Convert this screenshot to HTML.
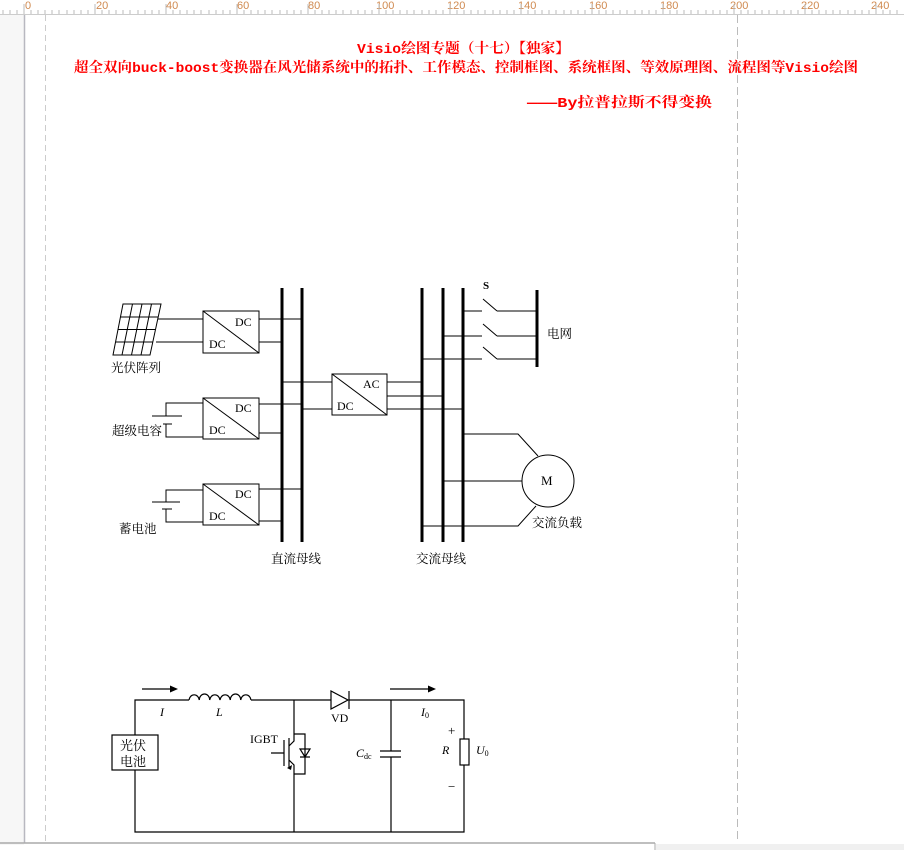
<!DOCTYPE html>
<html><head><meta charset="utf-8"><style>
html,body{margin:0;padding:0;background:#fff;}
svg{display:block;}
text{font-family:"Liberation Serif","Noto Serif CJK SC",serif;}
.cj{font-family:"Liberation Sans","Noto Sans CJK SC",sans-serif;font-size:12.5px;}
</style></head><body>
<svg width="904" height="850" viewBox="0 0 904 850" xmlns="http://www.w3.org/2000/svg">
<rect x="0" y="0" width="904" height="850" fill="#fff"/>
<rect x="0" y="15" width="24" height="830" fill="#f7f7f7"/>
<line x1="24.5" y1="15" x2="24.5" y2="843" stroke="#b8b8c0" stroke-width="1.5"/>
<line x1="45.5" y1="15" x2="45.5" y2="843" stroke="#ccc" stroke-dasharray="6,4"/>
<line x1="737.5" y1="15" x2="737.5" y2="843" stroke="#bbb" stroke-dasharray="8,4"/>
<!-- ruler -->
<rect x="0" y="0" width="904" height="15" fill="#fff"/>
<line x1="0" y1="14.5" x2="904" y2="14.5" stroke="#ccc"/>
<g font-family="Liberation Sans,sans-serif" font-size="11" fill="#d08a50">
<text x="25" y="9" style="font-family:'Liberation Sans',sans-serif">0</text><text x="96" y="9" style="font-family:'Liberation Sans',sans-serif">20</text><text x="166" y="9" style="font-family:'Liberation Sans',sans-serif">40</text><text x="237" y="9" style="font-family:'Liberation Sans',sans-serif">60</text><text x="308" y="9" style="font-family:'Liberation Sans',sans-serif">80</text><text x="376" y="9" style="font-family:'Liberation Sans',sans-serif">100</text><text x="447" y="9" style="font-family:'Liberation Sans',sans-serif">120</text><text x="518" y="9" style="font-family:'Liberation Sans',sans-serif">140</text><text x="589" y="9" style="font-family:'Liberation Sans',sans-serif">160</text><text x="660" y="9" style="font-family:'Liberation Sans',sans-serif">180</text><text x="730" y="9" style="font-family:'Liberation Sans',sans-serif">200</text><text x="801" y="9" style="font-family:'Liberation Sans',sans-serif">220</text><text x="871" y="9" style="font-family:'Liberation Sans',sans-serif">240</text>
</g>
<g stroke="#bbb">
<path d="M3 10V14M10 10V14M17 10V14M24 4V14M31 10V14M38 10V14M45 10V14M52 10V14M59 10V14M67 10V14M74 10V14M81 10V14M88 10V14M95 4V14M102 10V14M109 10V14M116 10V14M123 10V14M130 10V14M138 10V14M145 10V14M152 10V14M159 10V14M166 4V14M173 10V14M180 10V14M187 10V14M194 10V14M201 10V14M209 10V14M216 10V14M223 10V14M230 10V14M237 4V14M244 10V14M251 10V14M258 10V14M265 10V14M272 10V14M280 10V14M287 10V14M294 10V14M301 10V14M308 4V14M315 10V14M322 10V14M329 10V14M336 10V14M343 10V14M351 10V14M358 10V14M365 10V14M372 10V14M379 4V14M386 10V14M393 10V14M400 10V14M407 10V14M414 10V14M422 10V14M429 10V14M436 10V14M443 10V14M450 4V14M457 10V14M464 10V14M471 10V14M478 10V14M485 10V14M493 10V14M500 10V14M507 10V14M514 10V14M521 4V14M528 10V14M535 10V14M542 10V14M549 10V14M556 10V14M564 10V14M571 10V14M578 10V14M585 10V14M592 4V14M599 10V14M606 10V14M613 10V14M620 10V14M627 10V14M635 10V14M642 10V14M649 10V14M656 10V14M663 4V14M670 10V14M677 10V14M684 10V14M691 10V14M698 10V14M706 10V14M713 10V14M720 10V14M727 10V14M734 4V14M741 10V14M748 10V14M755 10V14M762 10V14M769 10V14M777 10V14M784 10V14M791 10V14M798 10V14M805 4V14M812 10V14M819 10V14M826 10V14M833 10V14M840 10V14M848 10V14M855 10V14M862 10V14M869 10V14M876 4V14M883 10V14M890 10V14M897 10V14"/>
</g>
<!-- bottom -->
<line x1="0" y1="843" x2="655" y2="843" stroke="#aaa" stroke-width="1.5"/>
<line x1="655" y1="843" x2="655" y2="850" stroke="#aaa"/>
<rect x="656" y="844" width="248" height="6" fill="#f0f0f0"/>

<!-- title -->
<g fill="#f00" font-weight="bold" font-size="14">
<text x="357" y="53" textLength="213" lengthAdjust="spacingAndGlyphs" style="font-family:'Liberation Mono','Noto Serif CJK SC',serif">Visio绘图专题（十七）【独家】</text>
<text x="74" y="72" textLength="784" lengthAdjust="spacingAndGlyphs" style="font-family:'Liberation Mono','Noto Serif CJK SC',serif">超全双向buck-boost变换器在风光储系统中的拓扑、工作模态、控制框图、系统框图、等效原理图、流程图等Visio绘图</text>
<text x="527" y="107" textLength="185" lengthAdjust="spacingAndGlyphs" style="font-family:'Liberation Mono','Noto Serif CJK SC',serif">———By拉普拉斯不得变换</text>
</g>

<g stroke="#000" fill="none" stroke-width="1">
<!-- solar panel -->
<path d="M123 304H161L150 355H113Z"/>
<path d="M132.5 304L122 355M142 304L131.5 355M151.5 304L141 355M120.5 317H158.3M118 329.5H155.8M115.5 342H153"/>
<path d="M158 319H203M156 342H203"/>
<!-- DC boxes -->
<rect x="203" y="311" width="56" height="42"/><path d="M203 311L259 353"/>
<rect x="203" y="398" width="56" height="41"/><path d="M203 398L259 439"/>
<rect x="203" y="484" width="56" height="41"/><path d="M203 484L259 525"/>
<path d="M259 319H302M259 342H282M259 404H302M259 433H282M259 489H302M259 521H282"/>
<!-- supercap -->
<path d="M203 403H166V416M152 416H182M163 424H172M166 424V437H203"/>
<!-- battery -->
<path d="M203 490H166V502M152 502H180M162 509H172M166 509V522H203"/>
<!-- DC/AC -->
<rect x="332" y="374" width="55" height="41"/><path d="M332 374L387 415"/>
<path d="M282 382H332M302 409H332M387 382H422M387 396H443M387 409H463"/>
<!-- switches -->
<path d="M463 311H482M483 299L497 311M497 311H537"/>
<path d="M443 336H482M483 324L497 336M497 336H537"/>
<path d="M422 359H482M483 347L497 359M497 359H537"/>
<!-- motor -->
<circle cx="548" cy="481" r="26"/>
<path d="M463 434H518L538 456M443 481H522M422 526H518L536 506"/>
</g>
<g stroke="#000" stroke-width="3">
<path d="M282 288V542M302 288V542M422 288V542M443 288V542M463 288V542M537 290V367"/>
</g>
<g font-size="12" fill="#000">
<text x="235" y="326">DC</text><text x="209" y="348">DC</text>
<text x="235" y="412">DC</text><text x="209" y="434">DC</text>
<text x="235" y="498">DC</text><text x="209" y="520">DC</text>
<text x="363" y="388">AC</text><text x="337" y="410">DC</text>
<text x="483" y="289" font-size="11" font-weight="bold">S</text>
<text x="541" y="485" font-size="13">M</text>
</g>
<g class="cj">
<text x="111" y="372">光伏阵列</text>
<text x="112" y="435">超级电容</text>
<text x="119" y="533">蓄电池</text>
<text x="271" y="563">直流母线</text>
<text x="416" y="563">交流母线</text>
<text x="547" y="338">电网</text>
<text x="532" y="527">交流负载</text>
</g>

<!-- circuit -->
<g stroke="#000" fill="none" stroke-width="1.2">
<path d="M135 735V700H189M251 700H331M349 700H464V739M464 765V832H135V770"/>
<path d="M189 700A5.2 6 0 0 1 199.3 700A5.2 6 0 0 1 209.7 700A5.2 6 0 0 1 220 700A5.2 6 0 0 1 230.3 700A5.2 6 0 0 1 240.7 700A5.2 6 0 0 1 251 700"/>
<path d="M294 700V734H305V774H294V832M294 734V741L289 746M289 760L294 765V774M289 738V768M284 740V766M271 753H284"/>
<path d="M305 749H300L305 757L310 749H305M300 757H310"/>
<path d="M331 691V709L348 700Z"/><path d="M349 691V709"/>
<path d="M391 700V751M380 751H401M380 757H401M391 757V832"/>
<rect x="460" y="739" width="9" height="26"/>
<rect x="112" y="735" width="46" height="35"/>
</g>
<path d="M292 765L287 768L291 770Z" fill="#000"/>
<g stroke="#000" stroke-width="1.2"><path d="M142 689H172M390 689H430"/></g>
<path d="M178 689L170 685.5V692.5Z M436 689L428 685.5V692.5Z" fill="#000"/>
<g font-size="12" fill="#000">
<text x="160" y="716" font-style="italic">I</text>
<text x="216" y="716" font-style="italic">L</text>
<text x="250" y="743">IGBT</text>
<text x="331" y="722">VD</text>
<text x="421" y="716" font-style="italic">I<tspan font-size="8" font-style="normal" dy="2">0</tspan></text>
<text x="356" y="757" font-style="italic">C<tspan font-size="8" font-style="normal" dy="2">dc</tspan></text>
<text x="442" y="754" font-style="italic">R</text>
<text x="476" y="754" font-style="italic">U<tspan font-size="8" font-style="normal" dy="2">0</tspan></text>
<text x="448" y="735" font-size="13">+</text>
<text x="448" y="791" font-size="13">−</text>
</g>
<g class="cj"><text x="120" y="750" style="font-size:13px">光伏</text><text x="120" y="766" style="font-size:13px">电池</text></g>
</svg>
</body></html>
